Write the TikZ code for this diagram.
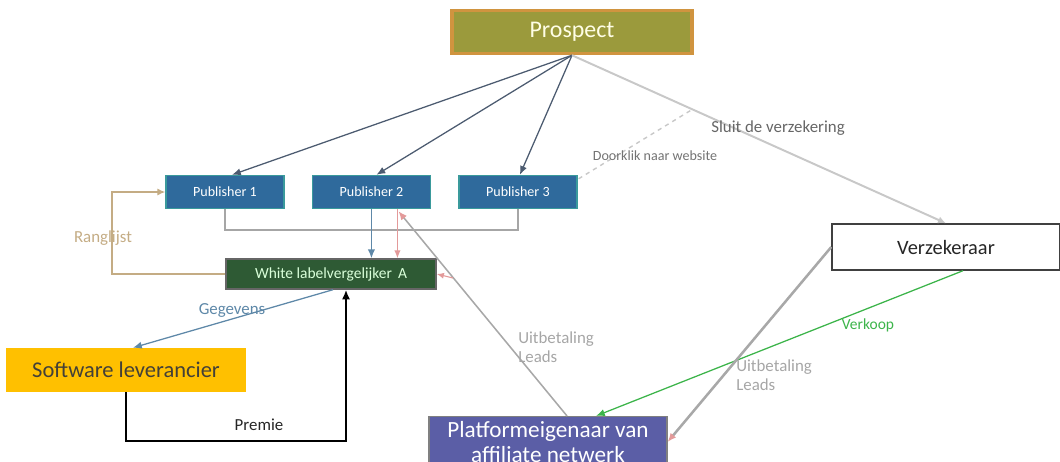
\documentclass[tikz,border=0pt]{standalone}
\usepackage{fontspec}
\setmainfont{Carlito}
\usepackage{tikz}
\usetikzlibrary{positioning, arrows.meta, calc}
\definecolor{olive}{HTML}{9B9A3C}
\definecolor{ochre}{HTML}{D0943F}
\definecolor{steel}{HTML}{2F6A9C}
\definecolor{tealedge}{HTML}{3A9A9C}
\definecolor{forest}{HTML}{2E5A34}
\definecolor{amberbg}{HTML}{FFC000}
\definecolor{violet}{HTML}{5B5EA6}
\definecolor{slate}{HTML}{4C5B70}
\definecolor{lightgrey}{HTML}{C8C8C8}
\definecolor{midgrey}{HTML}{A8A8A8}
\definecolor{rose}{HTML}{E39A9A}
\definecolor{tan}{HTML}{C4AC84}
\definecolor{bluegrey}{HTML}{5E88A8}
\definecolor{leaf}{HTML}{3CB44A}
\tikzset{
  pubbox/.style={draw=tealedge, line width=1pt, fill=steel, text=white,
                 minimum width=2.95cm, minimum height=0.825cm, inner sep=2pt,
                 font=\fontsize{10}{12}\selectfont},
  flow/.style={-{Latex[length=2.2mm, width=1.8mm]}, line width=0.9pt, draw=slate},
  pale/.style={line width=1.4pt, draw=lightgrey},
  payout/.style={line width=1.1pt, draw=midgrey,
                 -{Latex[length=2.2mm, width=1.8mm, color=rose]}},
  tag/.style={font=\fontsize{12}{14}\selectfont, inner sep=0pt},
}
\begin{document}
\begin{tikzpicture}[x={(0.025cm,0)}, y={(0,-0.025cm)}, node distance=0.675cm]
  \useasboundingbox (0,0) rectangle (1060,461);
  \node[draw=ochre, line width=2.5pt, fill=olive, text={white!90!yellow},
        minimum width=6cm, minimum height=1.075cm,
        font=\fontsize{17}{20}\selectfont] (prosp) at (572,32) {Prospect};
  \node[pubbox] (pub1) at (225,192) {Publisher 1};
  \node[pubbox, right=of pub1] (pub2) {Publisher 2};
  \node[pubbox, right=of pub2] (pub3) {Publisher 3};
  \node[draw={black!60}, line width=1pt, fill=forest, text={green!15!white},
        minimum width=5.25cm, minimum height=0.75cm,
        font=\fontsize{11}{13}\selectfont] (wl) at (331,274) {White labelvergelijker\ \,A};
  \node[fill=amberbg, text={black!85!yellow}, minimum width=5.975cm,
        minimum height=1.1cm, font=\fontsize{16}{19}\selectfont]
    (soft) at (126,370) {Software leverancier};
  \node[draw={black!75}, line width=1pt, fill=white, text={black!85},
        minimum width=5.7cm, minimum height=1.15cm,
        font=\fontsize{14.5}{17}\selectfont] (verz) at (946,247) {Verzekeraar};
  \node[draw={black!50}, line width=0.8pt, fill=violet, text=white,
        minimum width=5.95cm, minimum height=1.2cm, align=center,
        font=\fontsize{16.5}{18}\selectfont] (plat) at (548,442)
    {Platformeigenaar van\\affiliate netwerk};

  \draw[flow] (prosp.south) -- ($(pub1.north)+(7,0)$);
  \draw[flow] (prosp.south) -- ($(pub2.north)+(5,0)$);
  \draw[flow] (prosp.south) -- ($(pub3.north)+(2,0)$);
  \draw[pale, -{Latex[length=2mm, width=1.8mm]}] (prosp.south) -- (verz.north);
  \coordinate (klik) at (693,109);
  \draw[pale, dashed, line width=1pt] ($(pub3.north east)+(1,4)$) -- (klik);
  \node[tag, text={black!60}] (sluit) at (778,128) {Sluit de verzekering};
  \node[tag, text={black!55}, font=\fontsize{10}{12}\selectfont] (doorklik) at (655,156)
    {Doorklik naar website};

  \coordinate (bus) at (370,230);
  \draw[line width=1.4pt, draw={black!35}] (pub1.south) |- (bus) -| (pub3.south);
  \draw[flow, draw=bluegrey] (pub2.south) -- (pub2.south |- wl.north);
  \coordinate (p2r) at ($(pub2.south)+(26,0)$);
  \draw[line width=0.8pt, draw=rose, -{Latex[length=2mm, width=1.6mm]}]
    (p2r) -- (p2r |- wl.north);
  \draw[payout] ($(plat.north)+(19,0)$) -- ($(p2r)+(1,2)$);
  \coordinate (kink) at (453,278);
  \draw[line width=0.8pt, draw=rose, -{Latex[length=1.8mm, width=1.5mm]}]
    (kink) -- (wl.east);
  \node[tag, text={black!35}, align=left, anchor=north west] (uit1) at (518,331)
    {Uitbetaling\\Leads};

  \coordinate (rl) at (112,230);
  \draw[line width=1pt, draw=tan, -{Latex[length=2mm, width=1.8mm]}]
    (wl.west) -| (rl) |- (pub1.west);
  \node[tag, text=tan] (rang) at (103,238) {Ranglijst};

  \draw[flow, draw=bluegrey] ($(wl.south)+(2,0)$) -- ($(soft.north)+(7,0)$);
  \node[tag, text=bluegrey] (geg) at (232,310) {Gegevens};

  \coordinate (pr) at (346,441);
  \draw[line width=1.6pt, -{Latex[length=2.4mm, width=2mm]}]
    (soft.south) |- (pr) -- (pr |- wl.south);
  \node[tag, text={black!85}] (premie) at (259,425) {Premie};

  \draw[line width=0.9pt, draw=leaf, -{Latex[length=2.2mm, width=1.8mm]}]
    ($(verz.south)+(17,0)$) -- ($(plat.north)+(48,0)$);
  \node[tag, text=leaf, font=\fontsize{11}{13}\selectfont] (verkoop) at (868,325) {Verkoop};

  \draw[payout, line width=1.8pt] (verz.west) -- (plat.east);
  \node[tag, text={black!35}, align=left, anchor=north west] (uit2) at (736,359)
    {Uitbetaling\\Leads};
\end{tikzpicture}
\end{document}
